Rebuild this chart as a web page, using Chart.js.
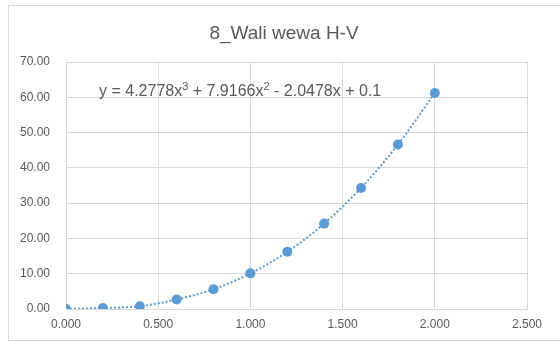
<!DOCTYPE html>
<html>
<head>
<meta charset="utf-8">
<script src="https://cdn.jsdelivr.net/npm/chart.js@4"></script>
<style>
  html, body { margin: 0; padding: 0; background: #ffffff; }
  #wrap { width: 560px; height: 345px; position: relative; }
</style>
</head>
<body>
<div id="wrap"><canvas id="c" width="560" height="345"></canvas></div>
<script>
const xValues = [0.0, 0.2, 0.4, 0.6, 0.8, 1.0, 1.2, 1.4, 1.6, 1.8, 2.0];
const yValues = [0.0, 0.3, 0.8, 2.7, 5.6, 10.1, 16.2, 24.2, 34.3, 46.6, 61.2];
const chartTitle = '8_Wali wewa H-V';
const equationParts = [
  ['y = 4.2778x', false], ['3', true], [' + 7.9166x', false], ['2', true], [' - 2.0478x + 0.1', false]
];

const textColor = '#595959';
const gridColor = '#d9d9d9';
const seriesColor = '#5b9bd5';
const fontFamily = "'Liberation Sans', Arial, sans-serif";

const frame = {
  id: 'frame',
  beforeDraw(chart) {
    const ctx = chart.ctx;
    ctx.save();
    ctx.fillStyle = '#ffffff';
    ctx.fillRect(0, 0, chart.width, chart.height);
    ctx.strokeStyle = gridColor;
    ctx.lineWidth = 1;
    ctx.strokeRect(8.5, 5.5, 560, 335);
    ctx.fillStyle = textColor;
    ctx.font = '19px ' + fontFamily;
    ctx.textAlign = 'center';
    ctx.textBaseline = 'middle';
    ctx.fillText(chartTitle, 284, 34);
    ctx.restore();
  }
};

const equation = {
  id: 'equation',
  afterDatasetsDraw(chart) {
    const ctx = chart.ctx;
    const a = chart.chartArea;
    let x = a.left + 33;
    const y = a.top + 30;
    ctx.save();
    ctx.fillStyle = textColor;
    ctx.textBaseline = 'middle';
    ctx.textAlign = 'left';
    for (const [t, sup] of equationParts) {
      ctx.font = (sup ? '11px ' : '16px ') + fontFamily;
      ctx.fillText(t, x, sup ? y - 5 : y);
      x += ctx.measureText(t).width;
    }
    ctx.restore();
  }
};

new Chart(document.getElementById('c'), {
  type: 'scatter',
  data: {
    datasets: [{
      data: xValues.map((x, i) => ({ x: x, y: yValues[i] })),
      showLine: true,
      borderColor: seriesColor,
      borderWidth: 2,
      borderDash: [2, 2],
      cubicInterpolationMode: 'monotone',
      pointRadius: 5,
      pointHoverRadius: 5,
      pointBackgroundColor: seriesColor,
      pointBorderColor: seriesColor,
      pointBorderWidth: 0
    }]
  },
  options: {
    responsive: false,
    animation: false,
    layout: { padding: { left: 0, right: 33, top: 62, bottom: 0 } },
    plugins: {
      legend: { display: false },
      tooltip: { enabled: false },
      title: { display: false }
    },
    scales: {
      x: {
        type: 'linear',
        min: 0, max: 2.5,
        afterFit(s) { s.height = 36; },
        ticks: {
          stepSize: 0.5,
          padding: 8,
          color: textColor,
          font: { family: fontFamily, size: 12 },
          callback: v => Number(v).toFixed(3)
        },
        grid: { color: gridColor, drawTicks: false },
        border: { color: gridColor }
      },
      y: {
        min: 0, max: 70,
        afterFit(s) { s.width = 66; },
        ticks: {
          stepSize: 10,
          padding: 16,
          color: textColor,
          font: { family: fontFamily, size: 12 },
          callback: v => Number(v).toFixed(2)
        },
        grid: { color: gridColor, drawTicks: false },
        border: { color: gridColor }
      }
    }
  },
  plugins: [frame, equation]
});
</script>
</body>
</html>
